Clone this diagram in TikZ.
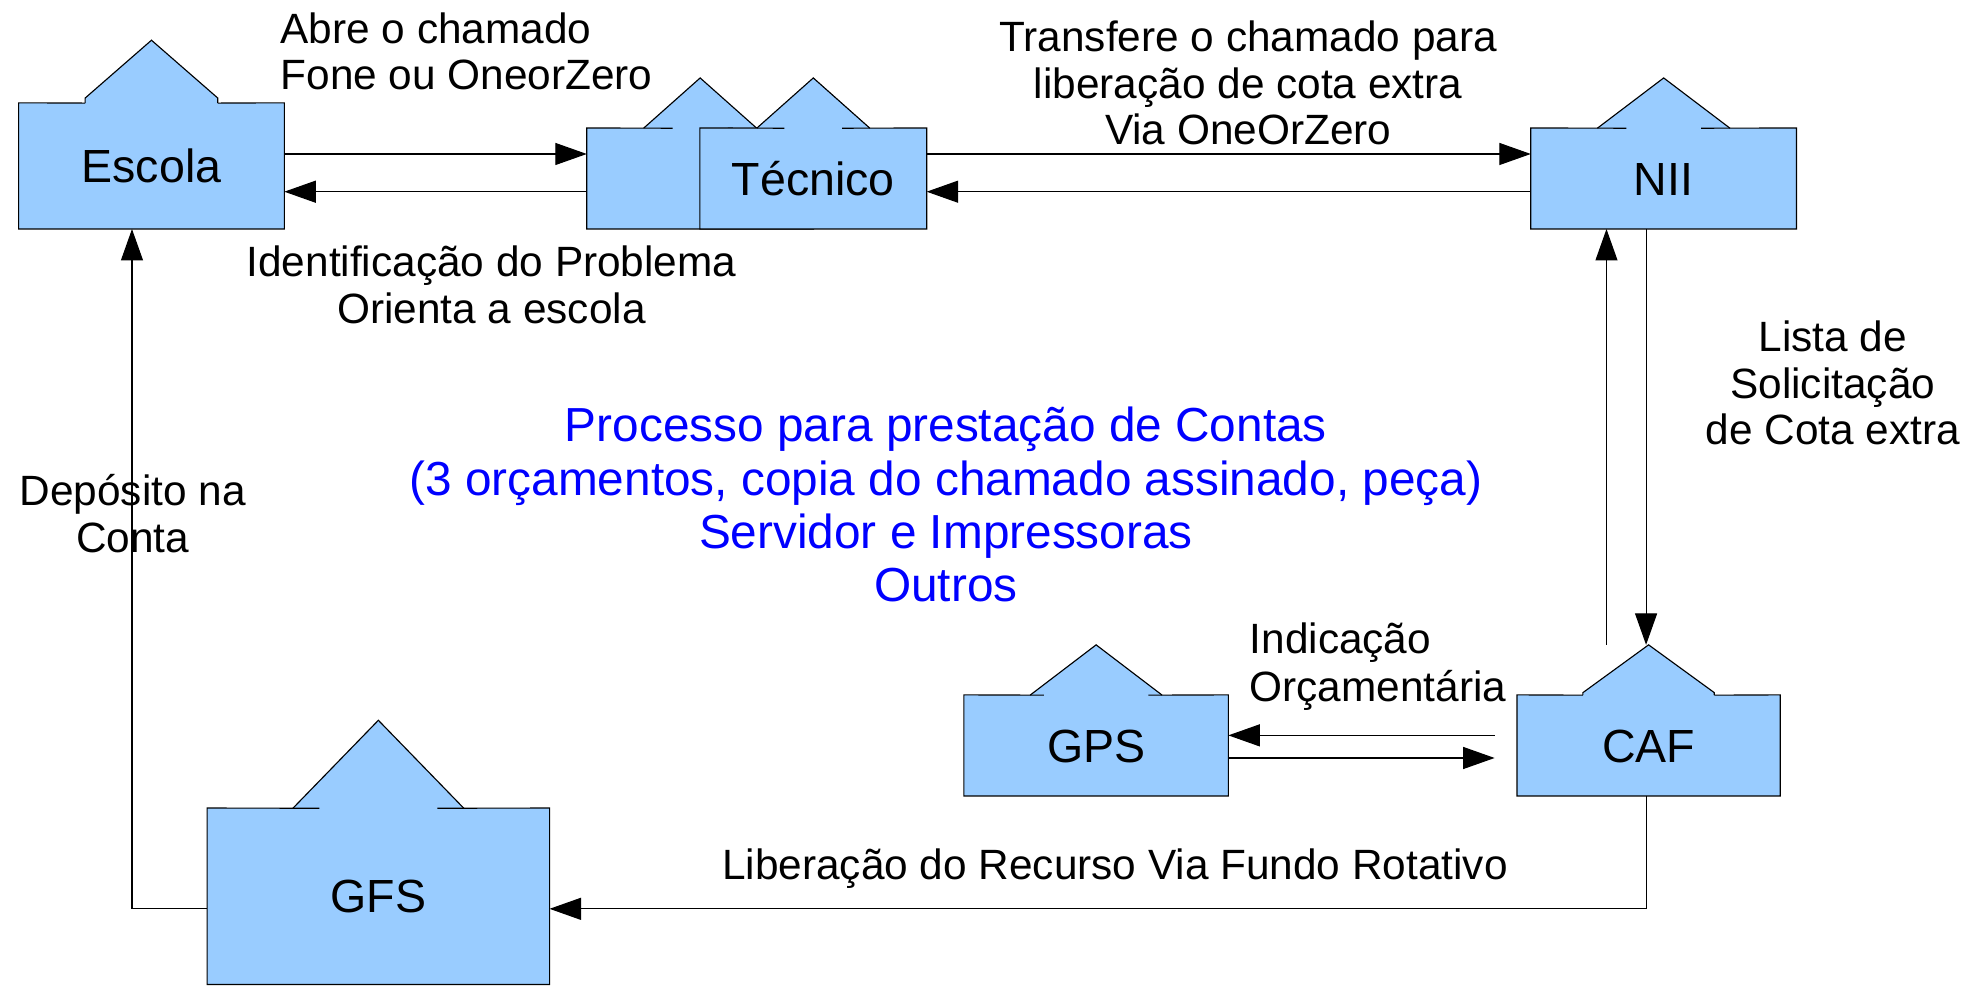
\documentclass[tikz,border=0pt]{standalone}
\usepackage{fontspec}
\setmainfont{Liberation Sans}
\usetikzlibrary{arrows.meta,calc}
\definecolor{boxblue}{RGB}{153,204,255}
\tikzset{
 outl/.style={draw=black, line width=0.9pt, line join=miter},
 hbox/.style={fill=boxblue, inner sep=0pt, font=\fontsize{37}{44}\selectfont, text height=26.5pt, text depth=0pt},
 lab/.style={font=\fontsize{33.7}{40}\selectfont, inner sep=0pt, anchor=base},
 bluelab/.style={font=\fontsize{38}{45}\selectfont, text=blue, inner sep=0pt, anchor=base},
 arr/.style={draw=black, line width=0.9pt, -{Triangle[length=25pt,width=17.5pt]}},
}
% #1 name, #2 cx, #3 cy, #4 w, #5 h, #6 text, #7 tick length, #8 roof step
\newcommand\hbx[8]{%
 \pgfmathsetmacro\hxL{#2-#4/2}%
 \pgfmathsetmacro\hxR{#2+#4/2}%
 \pgfmathsetmacro\hyT{#3-#5/2}%
 \pgfmathsetmacro\rxL{#2-#4/4}%
 \pgfmathsetmacro\rxR{#2+#4/4}%
 \pgfmathsetmacro\ryA{#3-#5}%
 \pgfmathsetmacro\ryS{\hyT-#8}%
 \pgfmathsetmacro\txL{\rxL+#7}%
 \pgfmathsetmacro\txR{\rxR-#7}%
 \fill[boxblue] (\rxL,\hyT) -- (\rxL,\ryS) -- (#2,\ryA) -- (\rxR,\ryS) -- (\rxR,\hyT) -- cycle;
 \node[hbox, minimum width=#4pt, minimum height=#5pt] (#1) at (#2,#3) {#6};
 \draw[outl] (\rxL,\hyT) -- (\rxL,\ryS) -- (#2,\ryA) -- (\rxR,\ryS) -- (\rxR,\hyT);
 \draw[outl] (\txR,\hyT) -- (#1.north east) -- (#1.south east) -- (#1.south west) -- (#1.north west) -- (\txL,\hyT);
}
\begin{document}
\begin{tikzpicture}[x=1pt,y=-1pt]
\fill[white] (0,0) rectangle (1568,790);
\useasboundingbox (0,0) rectangle (1568,790);

% boxes
\hbx{esc}{120.5}{132}{211}{100}{Escola}{0}{4}
\hbx{tecA}{557}{142}{180}{80}{}{23}{0}
\hbx{tecB}{647}{142}{180}{80}{Técnico}{22}{0}
\hbx{nii}{1323.5}{142}{211}{80}{NII}{23}{0}
\hbx{gps}{872}{593}{210}{80}{GPS}{11}{0}
\hbx{caf}{1311.5}{593}{209}{80}{CAF}{0}{2}
\hbx{gfs}{301}{713}{272}{140}{GFS}{21}{0}

\coordinate (cafroof) at (1309.5,513);
\coordinate (cafin1) at (1189,585);
\coordinate (cafin2) at (1189,603);

% connectors
\draw[arr] (esc.east |- 0,122.5) -- (tecA.west |- 0,122.5);
\draw[arr] (tecA.west |- 0,152.5) -- (esc.east |- 0,152.5);
\draw[arr] (tecB.east |- 0,122.5) -- (nii.west |- 0,122.5);
\draw[arr] (nii.west |- 0,152.5) -- (tecB.east |- 0,152.5);
\draw[arr] (cafroof -| 1278,0) -- (nii.south -| 1278,0);
\draw[arr] (nii.south -| 1309.5,0) -- (cafroof);
\draw[arr] (cafin1) -- (gps.east |- cafin1);
\draw[arr] (gps.east |- cafin2) -- (cafin2);
\draw[arr] (caf.south -| 1309.5,0) |- (gfs.east |- 0,723);
\draw[arr] (gfs.west |- 0,723) -| (esc.south -| 105,0);

% labels
\node[lab, anchor=base west] (t1a) at (223,34.5) {Abre o chamado};
\node[lab, anchor=base west] (t1b) at (223,71) {Fone ou OneorZero};
\node[lab] (t2a) at (391,220) {Identificação do Problema};
\node[lab] (t2b) at (391,257) {Orienta a escola};
\node[lab] (t3a) at (993,41) {Transfere o chamado para};
\node[lab] (t3b) at (993,78) {liberação de cota extra};
\node[lab] (t3c) at (993,115) {Via OneOrZero};
\node[lab] (t4a) at (1458,280) {Lista de};
\node[lab] (t4b) at (1458,317) {Solicitação};
\node[lab] (t4c) at (1458,354) {de Cota extra};
\node[lab] (t5a) at (105.5,402) {Depósito na};
\node[lab] (t5b) at (105.5,439.5) {Conta};
\node[lab, anchor=base west] (t6a) at (994,520) {Indicação};
\node[lab, anchor=base west] (t6b) at (994,558) {Orçamentária};
\node[lab] (t7) at (887,700) {Liberação do Recurso Via Fundo Rotativo};

\node[bluelab] (b1) at (752.5,351.5) {Processo para prestação de Contas};
\node[bluelab] (b2) at (752.5,394) {(3 orçamentos, copia do chamado assinado, peça)};
\node[bluelab] (b3) at (752.5,436.3) {Servidor e Impressoras};
\node[bluelab] (b4) at (752.5,478.7) {Outros};
\end{tikzpicture}
\end{document}
